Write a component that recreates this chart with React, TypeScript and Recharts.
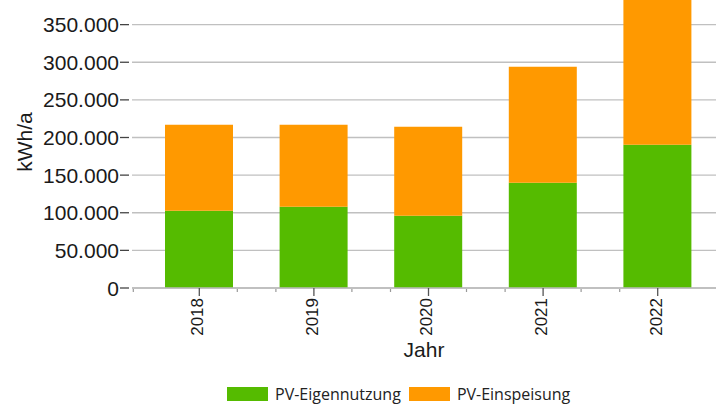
import React from 'react';
import { BarChart, Bar, XAxis, YAxis, CartesianGrid, Legend } from 'recharts';

const years = ['2018', '2019', '2020', '2021', '2022'];
const eigennutzung = [102600, 108000, 96000, 139800, 190300];
const einspeisung = [114200, 108800, 118200, 154100, 205000];
const yTicks = [0, 50000, 100000, 150000, 200000, 250000, 300000, 350000];

const seriesNames = ['PV-Eigennutzung', 'PV-Einspeisung'];
const seriesColors = ['#55BB00', '#FF9900'];

const data = years.map((y, i) => ({ year: y, eigen: eigennutzung[i], einsp: einspeisung[i] }));

const fmt = (v: number) => String(v).replace(/\B(?=(\d{3})+(?!\d))/g, '.');

const FONT = '"Liberation Sans", Arial, sans-serif';

const YTick = (props: any) => {
  const { x, y, payload } = props;
  return (
    <g>
      <line x1={x + 1} x2={x + 10} y1={y} y2={y} stroke="#444" strokeWidth={1.3} />
      <text x={x} y={y} dy="0.36em" textAnchor="end" fontSize={21} fontFamily={FONT} fill="#1a1a1a">
        {fmt(payload.value)}
      </text>
    </g>
  );
};

const XTick = (props: any) => {
  const { x, y, payload, index } = props;
  const n = years.length;
  const ay = y - 10;
  const minor: number[] = [];
  if (index === 0) minor.push(x - 66);
  if (index > 0) minor.push(x - 38);
  if (index < n - 1) minor.push(x + 38);
  return (
    <g>
      {minor.map((mx, i) => (
        <line key={i} x1={mx} x2={mx} y1={ay + 1} y2={ay + 4} stroke="#999" strokeWidth={1.2} />
      ))}
      <text
        transform={`translate(${x - 2},${y}) rotate(-90)`}
        textAnchor="end"
        dy="0.35em"
        fontSize={17}
        fontFamily={FONT}
        fill="#1a1a1a"
      >
        {payload.value}
      </text>
    </g>
  );
};

const LegendContent = () => (
  <div style={{ display: 'flex', alignItems: 'center', fontFamily: '"Open Sans", sans-serif', fontSize: 16, color: '#222', whiteSpace: 'nowrap' }}>
    {seriesNames.map((n, i) => (
      <div key={n} style={{ display: 'flex', alignItems: 'center', marginRight: 8 }}>
        <div style={{ width: 41, height: 14, background: seriesColors[i], marginRight: 7 }} />
        <span style={{ lineHeight: '18px' }}>{n}</span>
      </div>
    ))}
  </div>
);

const YLabel = () => (
  <text transform="translate(32,182) rotate(-90)" textAnchor="middle" fontSize={21} fontFamily={FONT} fill="#1a1a1a">
    kWh/a
  </text>
);

export default function App() {
  return (
    <div style={{ position: 'absolute', left: 0, top: -40, width: 716, height: 448 }}>
      <BarChart width={716} height={448} data={data} margin={{ top: 27, right: 0, bottom: 40, left: 0 }}>
        <CartesianGrid horizontal vertical={false} stroke="#c0c0c0" strokeWidth={1.3} />
        <XAxis
          dataKey="year"
          height={80}
          padding={{ left: 10, right: 1 }}
          tick={<XTick />}
          tickSize={8}
          tickMargin={2}
          tickLine={{ stroke: '#555', strokeWidth: 1.3 }}
          axisLine={{ stroke: '#bbb', strokeWidth: 1.5 }}
          interval={0}
          label={{ value: 'Jahr', position: 'insideBottom', offset: 11, fontSize: 21, fontFamily: FONT, fill: '#1a1a1a' }}
        />
        <YAxis
          width={132}
          domain={[0, 400000]}
          ticks={yTicks}
          allowDataOverflow
          tick={<YTick />}
          tickSize={13}
          tickMargin={0}
          tickLine={false}
          axisLine={false}
          label={<YLabel />}
        />
        <Legend
          layout="horizontal"
          verticalAlign="middle"
          align="center"
          wrapperStyle={{ top: 425, left: 227, width: 'auto' }}
          content={<LegendContent />}
        />
        <Bar dataKey="eigen" name={seriesNames[0]} stackId="a" fill={seriesColors[0]} barSize={68} isAnimationActive={false} />
        <Bar dataKey="einsp" name={seriesNames[1]} stackId="a" fill={seriesColors[1]} barSize={68} isAnimationActive={false} />
      </BarChart>
    </div>
  );
}
